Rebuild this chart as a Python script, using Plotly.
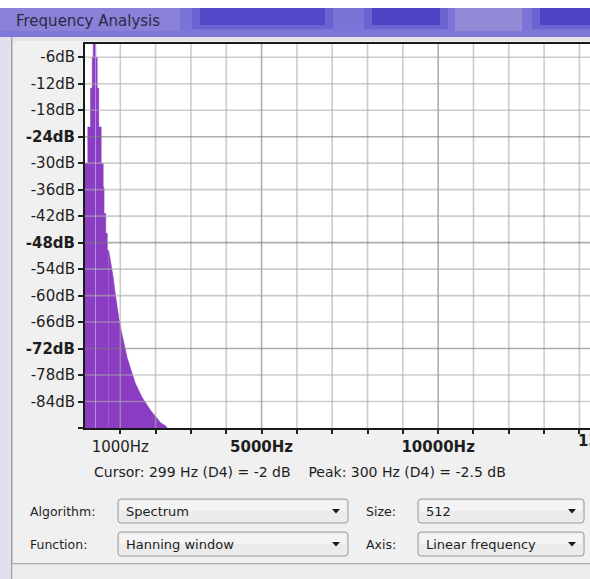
import plotly.graph_objects as go

# spectrum (Hz, dB)
# the narrow peak is drawn bin by bin: each level holds up to its frequency
SPIKE_HZ = [0, 79, 156, 204, 232, 306, 346, 391, 459, 516, 540, 588, 632, 674]
SPIKE_DB = [-30, -30, -21.8, -13, -6, -2.5, -6, -13, -21.8, -30, -35.5, -41.4, -45.9, -49.8]
# the falling skirt, read along its right-hand edge
TAIL_HZ = [674, 742, 799, 844, 892, 958, 1025, 1099, 1195, 1309, 1431, 1620, 1742, 1856,
           2025, 2139, 2280, 2330]
TAIL_DB = [-49.8, -52.7, -55.9, -58.8, -61.8, -65.0, -67.9, -70.9, -74.1, -77.0, -80.0,
           -83.1, -84.5, -86.0, -87.6, -88.8, -89.5, -90]

Y_TICKS = [-90, -84, -78, -72, -66, -60, -54, -48, -42, -36, -30, -24, -18, -12, -6]
Y_LABELS = ['', '-84dB', '-78dB', '-72dB', '-66dB', '-60dB', '-54dB', '-48dB', '-42dB',
            '-36dB', '-30dB', '-24dB', '-18dB', '-12dB', '-6dB']
Y_MAJOR = [-72, -48, -24]

X_TICKS = [1000, 2000, 3000, 4000, 5000, 6000, 7000, 8000, 9000, 10000, 11000, 12000,
           13000, 14000]
X_LABELS = ['1000Hz', '', '', '', '5000Hz', '', '', '', '', '10000Hz', '', '', '', '']
X_MAJOR = [5000, 10000]
X_CUT_LABEL = (15000, '15000Hz')

CURSOR_HZ = 299
READOUT = 'Cursor: 299 Hz (D4) = -2 dB    Peak: 300 Hz (D4) = -2.5 dB'

W, H = 590, 579
L, R, T, B = 85, 0, 44, 151
PW, PH = W - L - R, H - T - B
X_MAX = 14300
Y_RANGE = [-90, -3]
FONT = 'DejaVu Sans'
INK = '#1e1e1e'
PURPLE = '#8a3dc2'


def px(x):
    return (x - L) / PW


def py(y):
    return (H - B - y) / PH


def rect(x0, y0, x1, y1, fill, line=None, layer='below'):
    return dict(type='rect', xref='paper', yref='paper', x0=px(x0), x1=px(x1),
                y0=py(y1), y1=py(y0), fillcolor=fill, layer=layer,
                line=dict(width=1 if line else 0, color=line or fill))


def text(x, y, s, size=13, anchor='left', color=INK):
    fig.add_annotation(x=px(x), y=py(y), text=s, showarrow=False, xref='paper',
                       yref='paper', xanchor=anchor, yanchor='middle',
                       font=dict(family=FONT, size=size, color=color))


def dropdown(x0, y0, x1, y1, label):
    r = 3
    p = (f'M {px(x0 + r)},{py(y0)} L {px(x1 - r)},{py(y0)} Q {px(x1)},{py(y0)} {px(x1)},{py(y0 + r)} '
         f'L {px(x1)},{py(y1 - r)} Q {px(x1)},{py(y1)} {px(x1 - r)},{py(y1)} '
         f'L {px(x0 + r)},{py(y1)} Q {px(x0)},{py(y1)} {px(x0)},{py(y1 - r)} '
         f'L {px(x0)},{py(y0 + r)} Q {px(x0)},{py(y0)} {px(x0 + r)},{py(y0)} Z')
    shapes.append(dict(type='path', path=p, xref='paper', yref='paper', fillcolor='#ebebeb',
                       line=dict(color='#9a9a9a', width=1), layer='below'))
    shapes.append(rect(x0 + 2, y0 + 2, x1 - 2, (y0 + y1) / 2, '#f4f4f4'))
    cx, cy = x1 - 12, (y0 + y1) / 2
    tri = f'M {px(cx - 4)},{py(cy - 2)} L {px(cx + 4)},{py(cy - 2)} L {px(cx)},{py(cy + 2.5)} Z'
    shapes.append(dict(type='path', path=tri, xref='paper', yref='paper', fillcolor='#1a1a1a',
                       line=dict(width=0), layer='above'))
    text(x0 + 6, (y0 + y1) / 2, label, size=13)


def blob(x0, x1, dark):
    # soft darker patch in the glass title bar
    shapes.append(rect(x0 - 8, 8, x1 + 8, 29, '#6c63d2'))
    shapes.append(rect(x0, 8, x1, 25, dark))


fig = go.Figure()

# filled spectrum down to the floor of the dB axis
fig.add_trace(go.Scatter(x=[SPIKE_HZ[0], SPIKE_HZ[-1]], y=[Y_TICKS[0]] * 2, mode='lines',
                         line=dict(width=0, color=PURPLE), hoverinfo='skip'))
fig.add_trace(go.Scatter(x=SPIKE_HZ, y=SPIKE_DB, mode='lines', line_shape='vh',
                         line=dict(width=0.5, color=PURPLE), fill='tonexty',
                         fillcolor=PURPLE, hoverinfo='skip'))
fig.add_trace(go.Scatter(x=[TAIL_HZ[0], TAIL_HZ[-1]], y=[Y_TICKS[0]] * 2, mode='lines',
                         line=dict(width=0, color=PURPLE), hoverinfo='skip'))
fig.add_trace(go.Scatter(x=TAIL_HZ, y=TAIL_DB, mode='lines',
                         line=dict(width=0.5, color=PURPLE), fill='tonexty',
                         fillcolor=PURPLE, hoverinfo='skip'))

shapes = []

# window chrome
shapes.append(rect(0, 0, W, 8, 'white'))
shapes.append(rect(0, 8, W, 37, '#7c73d6'))
shapes.append(rect(0, 8, 180, 37, '#8a82d8'))
blob(200, 325, '#5148c8')
blob(372, 440, '#4e45c6')
shapes.append(rect(455, 8, 522, 37, '#948bd8'))
blob(540, W + 8, '#4e45c6')
shapes.append(rect(0, 31, W, 37, '#8078d8'))
shapes.append(rect(0, 37, W, 41, '#e4e4e8'))
shapes.append(rect(0, 37, 11, H, '#e2e0ee'))
shapes.append(rect(11, 37, 12.5, H, '#a09cb4'))
shapes.append(rect(12.5, 563, W, 564.5, '#a8a8a8'))
shapes.append(rect(12.5, 564.5, W, H, '#ececec'))

# grid over the fill, like Audacity draws it
for v in X_TICKS:
    major = v in X_MAJOR
    shapes.append(dict(type='line', xref='x', yref='paper', x0=v, x1=v, y0=0, y1=1,
                       layer='above',
                       line=dict(color='rgba(120,120,120,0.6)' if major else 'rgba(170,170,170,0.6)',
                                 width=1.6)))
for v in Y_TICKS[1:]:
    major = v in Y_MAJOR
    shapes.append(dict(type='line', xref='paper', yref='y', x0=0, x1=1, y0=v, y1=v,
                       layer='above',
                       line=dict(color='rgba(120,120,120,0.6)' if major else 'rgba(170,170,170,0.6)',
                                 width=1.6)))
shapes.append(dict(type='line', xref='x', yref='paper', x0=CURSOR_HZ, x1=CURSOR_HZ, y0=0, y1=1,
                   layer='above', line=dict(color='rgba(205,175,235,0.7)', width=1)))

# controls
dropdown(118, 499, 348, 523, 'Spectrum')
dropdown(418, 499, 584, 523, '512')
dropdown(118, 532, 348, 556, 'Hanning window')
dropdown(418, 532, 584, 556, 'Linear frequency')
fig.update_layout(shapes=shapes)

text(14, 21, 'Frequency Analysis', size=15, color='#2b2a44')
text(92, 472, READOUT, size=14)
text(28, 511, 'Algorithm:', size=12.5)
text(28, 544, 'Function:', size=12.5)
text(364, 511, 'Size:', size=12.5)
text(364, 544, 'Axis:', size=12.5)
text(L + X_CUT_LABEL[0] / X_MAX * PW, 441, f'<b>{X_CUT_LABEL[1]}</b>', size=15, anchor='center')

fig.update_layout(
    width=W, height=H,
    margin=dict(l=L, r=R, t=T, b=B, pad=0),
    paper_bgcolor='#f0f0f0', plot_bgcolor='white',
    showlegend=False,
    xaxis=dict(range=[0, X_MAX], tickvals=X_TICKS,
               ticktext=[f'<b>{s}</b>' if v in X_MAJOR else s for v, s in zip(X_TICKS, X_LABELS)],
               ticks='outside', ticklen=4, tickwidth=1.5, tickcolor='#222',
               showgrid=False, zeroline=False, showline=True, linecolor='#1a1a1a',
               linewidth=2, mirror=True, tickfont=dict(family=FONT, size=15, color=INK),
               fixedrange=True),
    yaxis=dict(range=Y_RANGE, tickvals=Y_TICKS,
               ticktext=[f'<b>{s}</b>' if v in Y_MAJOR else s for v, s in zip(Y_TICKS, Y_LABELS)],
               ticks='outside', ticklen=5, tickwidth=1.5, tickcolor='#222',
               showgrid=False, zeroline=False, showline=True, linecolor='#1a1a1a',
               linewidth=2, tickfont=dict(family=FONT, size=15, color=INK),
               fixedrange=True),
)

# the page's default body margin would push the window chrome off by 8px
fig.write_html('out.html', config={'displayModeBar': False},
               post_script="document.body.style.margin='0';document.body.style.overflow='hidden';")
